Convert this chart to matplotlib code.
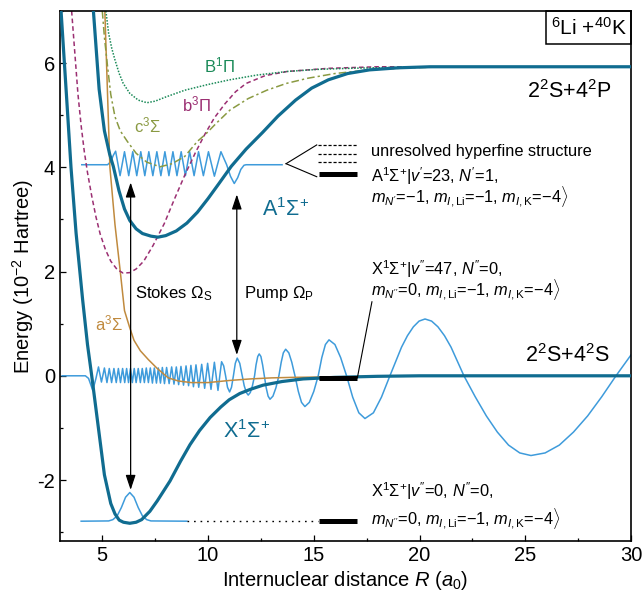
import matplotlib
matplotlib.use('Agg')
import matplotlib.pyplot as plt
from matplotlib.patches import Rectangle
from matplotlib.ticker import MultipleLocator

plt.rcParams['font.family'] = ['Liberation Sans', 'DejaVu Sans']
plt.rcParams['mathtext.fontset'] = 'custom'
plt.rcParams['mathtext.rm'] = 'Liberation Sans'
plt.rcParams['mathtext.it'] = 'Liberation Sans:italic'
plt.rcParams['mathtext.bf'] = 'Liberation Sans:bold'
plt.rcParams['axes.unicode_minus'] = False

# ---------------- potential curves (R in a0, E in 1e-2 Hartree) ----------------
X_R = [3.05, 3.32, 3.52, 3.76, 4.07, 4.3, 4.5, 4.8, 5.1, 5.4, 5.6, 5.8, 6.0, 6.3, 6.6, 6.86,
       7.25, 7.6, 8.2, 8.7, 9.15, 9.6, 10.1, 10.6, 11.0, 11.5, 12.0, 12.6, 13.5, 14.5, 16.0,
       18.0, 20.0, 30.0]
X_E = [7.0, 5.29, 4.0, 2.74, 1.46, 0.6, 0.0, -0.95, -1.9, -2.45, -2.65, -2.77, -2.81, -2.83,
       -2.81, -2.76, -2.6, -2.4, -2.02, -1.64, -1.32, -1.05, -0.8, -0.6, -0.46, -0.34, -0.26,
       -0.18, -0.11, -0.06, -0.03, -0.01, 0.0, 0.0]

A_R = [4.58, 4.85, 5.1, 5.35, 5.52, 5.79, 6.05, 6.3, 6.6, 6.9, 7.3, 7.63, 8.0, 8.5, 9.0, 9.5,
       10.0, 10.5, 11.1, 11.8, 12.58, 13.3, 14.14, 14.9, 15.69, 16.6, 17.63, 19.0, 20.5, 30.0]
A_E = [7.0, 5.5, 4.7, 4.25, 4.02, 3.55, 3.2, 2.98, 2.82, 2.73, 2.68, 2.66, 2.69, 2.78, 2.93,
       3.14, 3.4, 3.68, 4.02, 4.35, 4.67, 4.98, 5.29, 5.52, 5.68, 5.8, 5.87, 5.91, 5.93, 5.93]

B_R = [5.17, 5.3, 5.45, 5.6, 5.8, 5.99, 6.3, 6.7, 7.11, 7.5, 8.0, 8.9, 10.0, 11.03, 12.3,
       13.75, 15.2, 16.7, 19.0, 21.0, 30.0]
B_E = [7.0, 6.57, 6.28, 6.06, 5.8, 5.61, 5.42, 5.29, 5.24, 5.27, 5.35, 5.48, 5.59, 5.68, 5.77,
       5.84, 5.88, 5.9, 5.92, 5.93, 5.93]

b_R = [3.55, 3.7, 3.85, 4.0, 4.15, 4.3, 4.5, 4.7, 4.9, 5.15, 5.4, 5.7, 5.99, 6.3, 6.6, 6.96,
       7.4, 7.93, 8.4, 8.9, 9.4, 9.87, 10.3, 10.8, 11.3, 11.8, 12.7, 13.75, 15.7, 18.0, 30.0]
b_E = [7.0, 6.2, 5.4, 4.8, 4.3, 3.9, 3.45, 3.05, 2.72, 2.42, 2.2, 2.04, 1.97, 1.98, 2.05, 2.2,
       2.5, 2.92, 3.38, 3.85, 4.28, 4.65, 4.95, 5.22, 5.45, 5.61, 5.76, 5.84, 5.9, 5.93, 5.93]

c_R = [5.0, 5.1, 5.25, 5.4, 5.6, 5.85, 6.18, 6.6, 7.1, 7.73, 8.3, 8.9, 9.5, 9.87, 10.4, 11.04,
       11.9, 12.78, 13.7, 14.72, 16.0, 17.6, 19.5, 21.5, 30.0]
c_E = [7.0, 6.5, 5.93, 5.4, 4.97, 4.7, 4.5, 4.27, 4.1, 4.01, 4.07, 4.21, 4.5, 4.63, 4.85, 5.1,
       5.32, 5.48, 5.61, 5.71, 5.8, 5.87, 5.91, 5.93, 5.93]

a_R = [5.12, 5.24, 5.36, 5.6, 5.85, 6.05, 6.3, 6.5, 6.8, 7.18, 7.6, 8.12, 8.6, 9.2, 10.0,
       11.0, 12.0, 13.0, 14.0, 16.0, 20.0, 30.0]
a_E = [7.0, 5.5, 4.0, 2.9, 2.0, 1.25, 0.92, 0.68, 0.48, 0.31, 0.14, -0.04, -0.1, -0.13, -0.13,
       -0.09, -0.06, -0.04, -0.03, -0.02, 0.0, 0.0]

# ---------------- vibrational wavefunctions ----------------
level_X47 = 0.0
X47_R = [3.1, 4.2, 4.35, 4.55, 4.70, 4.82, 4.96, 5.10, 5.22, 5.33, 5.44, 5.55, 5.66, 5.76, 5.86,
         5.96, 6.06, 6.15, 6.24, 6.33, 6.42, 6.51, 6.60, 6.70, 6.80, 6.89, 6.99, 7.08, 7.18, 7.27,
         7.37, 7.46, 7.56, 7.65, 7.75, 7.84, 7.94, 8.04, 8.16, 8.28, 8.39, 8.50, 8.61, 8.72, 8.84,
         8.96, 9.08, 9.19, 9.31, 9.43, 9.56, 9.70, 9.84, 9.98, 10.14, 10.30, 10.47, 10.64,
         10.74, 10.83, 10.92, 11.02, 11.11, 11.2, 11.29, 11.38, 11.5, 11.62,
         11.71, 11.81, 11.9, 12.0, 12.1, 12.2,
         12.27, 12.35, 12.42, 12.5, 12.58, 12.66,
         12.75, 12.84, 12.93, 13.07, 13.21, 13.35,
         13.46, 13.56, 13.67, 13.82, 13.96, 14.11,
         14.27, 14.42, 14.58, 14.79, 15.0, 15.21,
         15.38, 15.55, 15.72, 16.0, 16.27, 16.55,
         16.84, 17.13, 17.42, 17.82, 18.2, 18.6,
         18.88, 19.15, 19.43, 19.71, 19.98, 20.26, 20.57, 20.87, 21.18, 21.49, 21.79, 22.1,
         22.63, 23.16, 23.68, 24.21, 24.74, 25.27, 25.94, 26.61, 27.28, 27.95, 28.62, 29.29, 30.0]
X47_psi = [0, 0, -0.05, -0.28, -0.05, 0.17, -0.12, 0.15, -0.13, 0.14, -0.13, 0.14, -0.13, 0.14,
           -0.13, 0.14, -0.13, 0.14, -0.13, 0.14, -0.13, 0.14, -0.13, 0.14, -0.13, 0.14, -0.13,
           0.15, -0.13, 0.15, -0.14, 0.15, -0.14, 0.15, -0.14, 0.16, -0.15, 0.16, -0.15, 0.17,
           -0.16, 0.17, -0.17, 0.18, -0.18, 0.19, -0.19, 0.20, -0.21, 0.21, -0.22, 0.22, -0.24,
           0.24, -0.26, 0.26, -0.28, 0.27,
           0.19, 0.0, -0.22, -0.31, -0.22, 0.0, 0.24, 0.34, 0.24, 0.0,
           -0.19, -0.32, -0.37, -0.32, -0.19, 0.0,
           0.21, 0.37, 0.42, 0.37, 0.21, 0.0,
           -0.23, -0.39, -0.45, -0.39, -0.23, 0.0,
           0.26, 0.44, 0.51, 0.44, 0.26, 0.0,
           -0.30, -0.51, -0.59, -0.51, -0.30, 0.0,
           0.35, 0.60, 0.69, 0.60, 0.35, 0.0,
           -0.41, -0.71, -0.82, -0.71, -0.41, 0.0,
           0.28, 0.55, 0.77, 0.94, 1.05, 1.09, 1.05, 0.94, 0.77, 0.55, 0.28, 0.0,
           -0.40, -0.77, -1.08, -1.33, -1.48, -1.53, -1.48, -1.33, -1.08, -0.77, -0.40, 0.0, 0.40]

level_A23 = 4.05
A23_R = [4.03, 5.25, 5.40, 5.52, 5.63, 5.84, 6.05, 6.25, 6.44, 6.63, 6.82, 7.01, 7.20, 7.39,
         7.58, 7.77, 7.96, 8.15, 8.34, 8.53, 8.73, 8.93, 9.13, 9.34, 9.55, 9.78, 10.02, 10.30,
         10.61, 10.75, 10.88, 11.06, 11.24, 11.40, 11.55, 11.70, 11.80, 13.5]
A23_psi = [0, 0, 0.06, 0.18, 0.26, -0.21, 0.25, -0.21, 0.25, -0.21, 0.25, -0.21, 0.25, -0.21,
           0.25, -0.21, 0.25, -0.21, 0.25, -0.21, 0.25, -0.21, 0.25, -0.21, 0.25, -0.21, 0.25,
           -0.22, 0.25, 0.12, 0.0, -0.22, -0.36, -0.25, -0.09, -0.01, 0.0, 0.0]

level_X0 = -2.79
X0_R = [4.0, 5.3, 5.5, 5.7, 5.9, 6.1, 6.3, 6.5, 6.7, 6.9, 7.1, 7.3, 9.0]
X0_psi = [0, 0.005, 0.03, 0.10, 0.26, 0.46, 0.55, 0.46, 0.26, 0.10, 0.03, 0.005, 0]

# level markers
bar_R = [15.26, 17.06]
level_A_bar = 3.87
hyperfine_E = [4.43, 4.26, 4.10]
level_X47_bar = -0.04

# transitions
stokes_R, stokes_E = 6.34, [-2.19, 3.71]
pump_R, pump_E = 11.36, [0.40, 3.48]

# state labels
label_A23 = ["A$^{1}$Σ$^{+}$|$v'$=23, $N'$=1,",
             "$m_{N'}$=−1, $m_{I,\\mathrm{Li}}$=−1, $m_{I,\\mathrm{K}}$=−4$\\rangle$"]
label_X47 = ["X$^{1}$Σ$^{+}$|$v''$=47, $N''$=0,",
             "$m_{N''}$=0, $m_{I,\\mathrm{Li}}$=−1, $m_{I,\\mathrm{K}}$=−4$\\rangle$"]
label_X0 = ["X$^{1}$Σ$^{+}$|$v''$=0, $N''$=0,",
            "$m_{N''}$=0, $m_{I,\\mathrm{Li}}$=−1, $m_{I,\\mathrm{K}}$=−4$\\rangle$"]

# ---------------- colours ----------------
c_thick = '#106c90'
c_wave = '#3e9bdb'
c_B = '#1a8a58'
c_b = '#9b2f72'
c_c = '#8a9a42'
c_a = '#c08a3e'

fig = plt.figure(figsize=(6.44, 5.99), dpi=100)
ax = fig.add_axes([60 / 644, 1 - 541 / 599, 571 / 644, 530 / 599])

# wavefunctions
ax.plot(X47_R, [level_X47 + p for p in X47_psi], color=c_wave, lw=1.1, zorder=2)
ax.plot(A23_R, [level_A23 + p for p in A23_psi], color=c_wave, lw=1.1, zorder=2)
ax.plot(X0_R, [level_X0 + p for p in X0_psi], color=c_wave, lw=1.1, zorder=2)

# thin potentials
ax.plot(a_R, a_E, color=c_a, lw=1.1, zorder=2.5)
ax.plot(b_R, b_E, color=c_b, lw=1.1, ls=(0, (3, 2)), zorder=2.5)
ax.plot(c_R, c_E, color=c_c, lw=1.1, ls=(0, (5, 2, 1.5, 2)), zorder=2.5)
ax.plot(B_R, B_E, color=c_B, lw=1.1, ls=(0, (1, 1)), zorder=2.5)

# thick potentials
ax.plot(X_R, X_E, color=c_thick, lw=2.3, zorder=3)
ax.plot(A_R, A_E, color=c_thick, lw=2.3, zorder=3)

# level bars
for lev in [level_A_bar, level_X47_bar, level_X0]:
    ax.plot(bar_R, [lev, lev], color='k', lw=3.6, solid_capstyle='butt', zorder=5)
for hf in hyperfine_E:
    ax.plot([15.2, 17.06], [hf, hf], color='k', lw=0.9, ls=(0, (2.5, 1.5)), zorder=5)
ax.plot([9.0, 15.2], [level_X0, level_X0], color='k', lw=1.0, ls=(0, (1.2, 3.5)), zorder=5)
ax.plot([13.69, 15.14], [4.07, 4.43], color='k', lw=0.8, zorder=5)
ax.plot([13.69, 15.14], [4.07, 3.82], color='k', lw=0.8, zorder=5)
ax.plot([17.06, 17.75], [level_X47_bar, 1.42], color='k', lw=0.8, zorder=5)

# transitions
for R, (e0, e1) in [(stokes_R, stokes_E), (pump_R, pump_E)]:
    ax.annotate('', xy=(R, e1), xytext=(R, e0),
                arrowprops=dict(arrowstyle='<|-|>,head_length=0.9,head_width=0.3',
                                color='k', lw=0.9, shrinkA=0, shrinkB=0, mutation_scale=10),
                zorder=6)

# text
ax.text(6.57, 1.49, 'Stokes Ω$_{\\rm S}$', fontsize=12, ha='left', va='baseline')
ax.text(11.71, 1.49, 'Pump Ω$_{\\rm P}$', fontsize=12, ha='left', va='baseline')

ax.text(9.81, 5.82, 'B$^{1}$Π', color=c_B, fontsize=12, va='baseline')
ax.text(8.76, 5.07, 'b$^{3}$Π', color=c_b, fontsize=12, va='baseline')
ax.text(6.51, 4.67, 'c$^{3}$Σ', color=c_c, fontsize=12, va='baseline')
ax.text(4.66, 0.88, 'a$^{3}$Σ', color=c_a, fontsize=12, va='baseline')
ax.text(12.53, 3.07, 'A$^{1}$Σ$^{+}$', color=c_thick, fontsize=15.5, va='baseline')
ax.text(10.7, -1.19, 'X$^{1}$Σ$^{+}$', color=c_thick, fontsize=15.5, va='baseline')

ax.text(29.08, 5.33, '2$^{2}$S+4$^{2}$P', fontsize=15.5, ha='right', va='baseline')
ax.text(29.0, 0.27, '2$^{2}$S+4$^{2}$S', fontsize=15.5, ha='right', va='baseline')

fs = 11.8
ax.text(17.69, 4.21, 'unresolved hyperfine structure', fontsize=fs, va='baseline')
ax.text(17.69, 3.30, '\n'.join(label_A23), fontsize=fs, va='baseline', linespacing=0.89)
ax.text(17.69, 1.52, '\n'.join(label_X47), fontsize=fs, va='baseline', linespacing=0.89)
ax.text(17.69, -2.87, '\n'.join(label_X0), fontsize=fs, va='baseline', linespacing=1.23)

# species box
ax.add_patch(Rectangle((25.99, 6.36), 4.01, 0.64, fill=False, ec='k', lw=1.1, zorder=6,
                       clip_on=False))
ax.text(28.0, 6.68, '$^{6}$Li +$^{40}$K', fontsize=15, ha='center', va='center', zorder=7)

# axes
ax.set_xlim(3, 30)
ax.set_ylim(-3.17, 7.0)
ax.xaxis.set_major_locator(MultipleLocator(5))
ax.xaxis.set_minor_locator(MultipleLocator(2.5))
ax.yaxis.set_major_locator(MultipleLocator(2))
ax.yaxis.set_minor_locator(MultipleLocator(1))
ax.tick_params(which='both', direction='in', top=False, right=False, labelsize=14.5, width=0.9)
ax.tick_params(which='major', length=4)
ax.tick_params(which='minor', length=2.2)
for s in ax.spines.values():
    s.set_linewidth(1.2)
ax.set_xlabel('Internuclear distance $R$ ($a_0$)', fontsize=14.5, labelpad=3)
ax.set_ylabel('Energy (10$^{-2}$ Hartree)', fontsize=14.5, labelpad=1)

fig.savefig('out.png', dpi=100)
